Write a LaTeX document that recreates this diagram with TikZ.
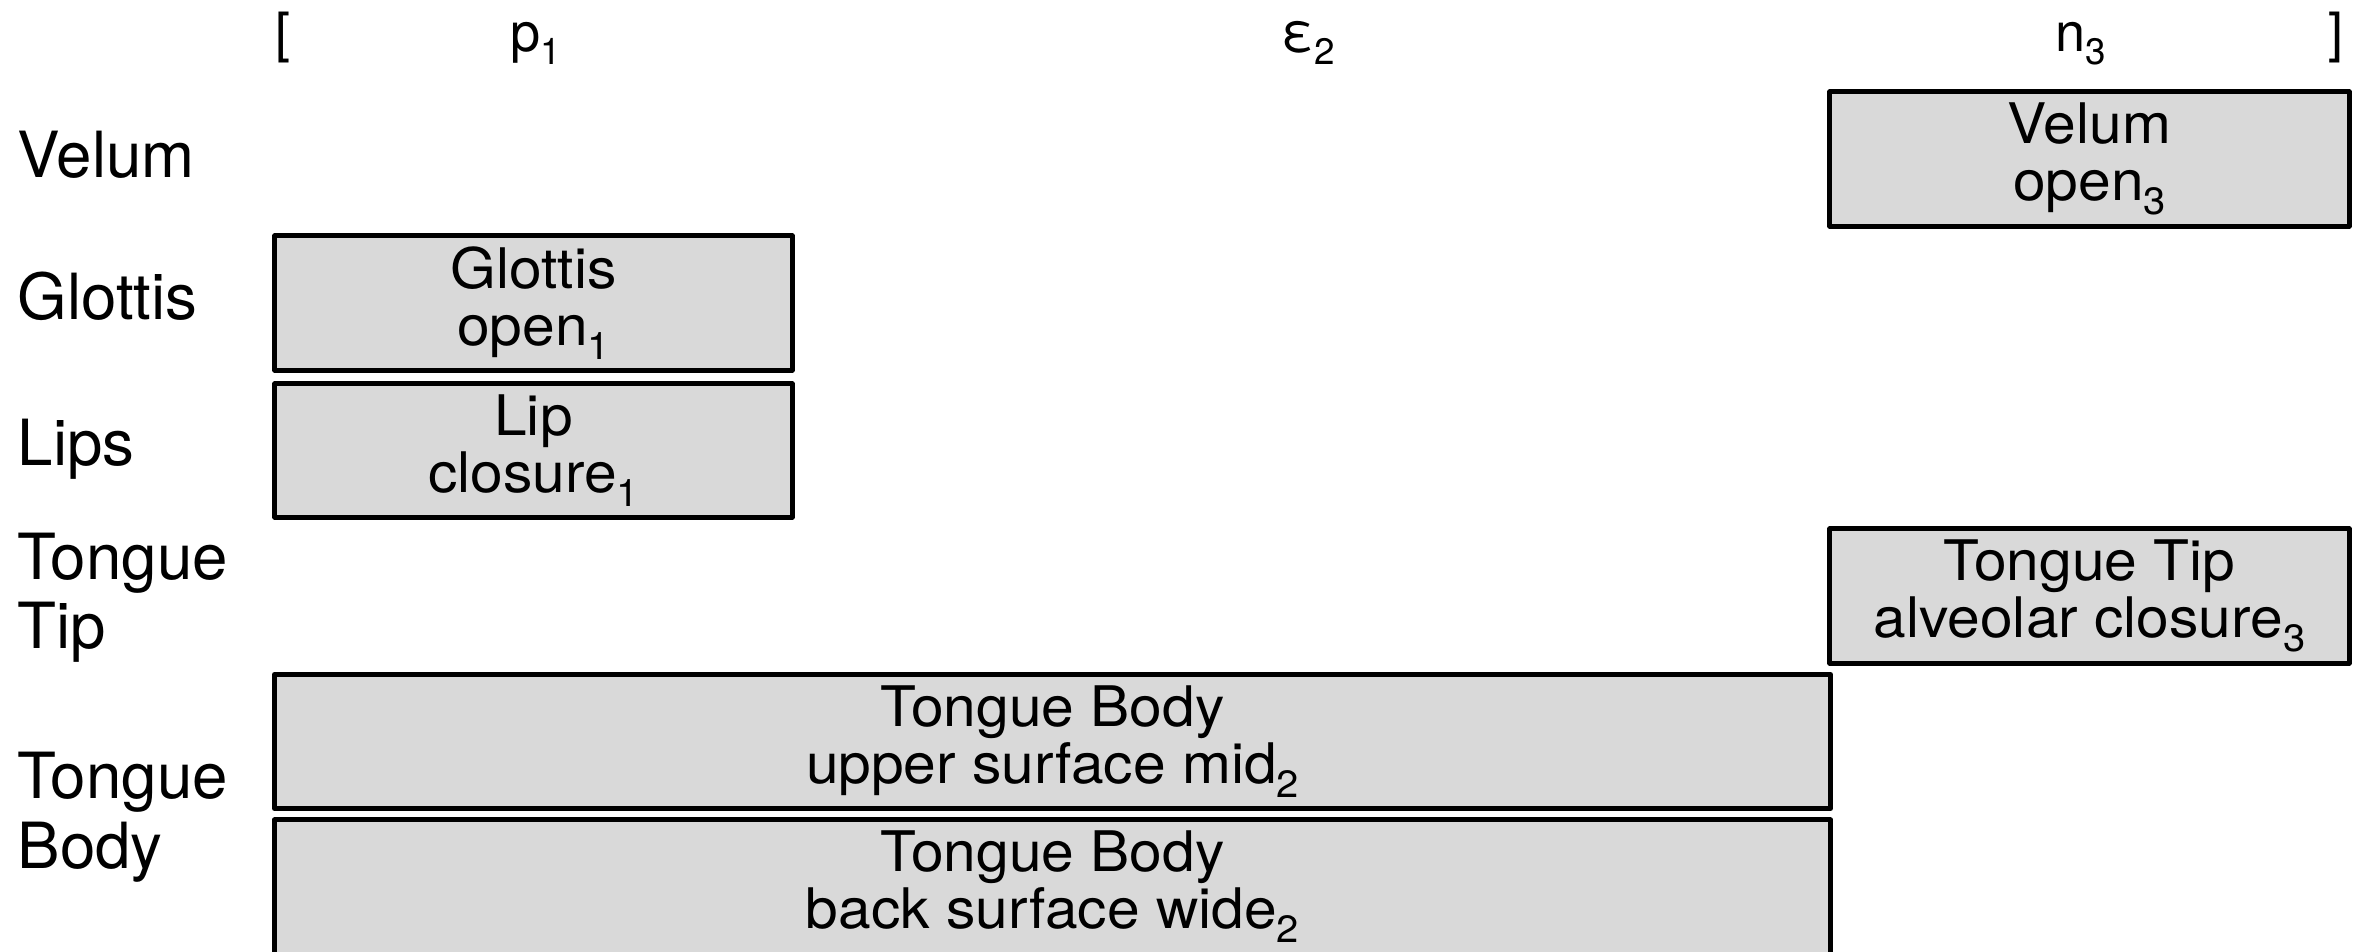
\documentclass[tikz,border=0pt]{standalone}
\usepackage{fontspec}
\usepackage{graphicx}
\setmainfont{TeX Gyre Heros}
\newfontfamily\gesturefont[FakeStretch=1.05]{TeX Gyre Heros}

% lowered, reduced index digit
\newcommand\lowidx[1]{\raisebox{-0.25em}{\scalebox{0.68}{#1}}}

\begin{document}
\begin{tikzpicture}[x=0.01cm, y=-0.01cm,
  gesture/.style={draw=black, fill=black!15, line width=1.42pt, line join=round,
    inner sep=0pt, minimum height=1.34cm, align=center,
    font=\gesturefont\fontsize{15.9}{16.2}\selectfont},
  rowlabel/.style={inner sep=0pt, anchor=base west,
    font=\fontsize{18.1}{19.9}\selectfont},
  toplabel/.style={inner sep=0pt, anchor=base,
    font=\fontsize{15.4}{18}\selectfont}]
\useasboundingbox (0,0) rectangle (2364,951);

% segment string along the top
\node[toplabel] (lbr)  at (283,51)  {[};
\node[toplabel] (seg1) at (536,51)  {p\lowidx{1}};
\node[toplabel] (seg2) at (1308,51) {ε\lowidx{2}};
\node[toplabel] (seg3) at (2081,51) {n\lowidx{3}};
\node[toplabel] (rbr)  at (2336,51) {]};

% articulator tiers
\node[rowlabel] (lvelum)   at (17,177) {Velum};
\node[rowlabel] (lglottis) at (17,319) {Glottis};
\node[rowlabel] (llips)    at (17,465) {Lips};
\node[rowlabel] (ltip)     at (17,579) {\vtop{\hbox{Tongue}\hbox{Tip}}};
\node[rowlabel] (lbody)    at (17,798) {\vtop{\hbox{Tongue}\hbox{Body}}};

% gestures
\node[gesture, minimum width=5.19cm] (velum)   at (2089.5,159) {Velum\\open\lowidx{3}};
\node[gesture, minimum width=5.17cm] (glottis) at (533.5,303)  {Glottis\\open\lowidx{1}};
\node[gesture, minimum width=5.17cm, minimum height=1.33cm] (lips) at (533.5,450.5) {Lip\\closure\lowidx{1}};
\node[gesture, minimum width=5.19cm] (ttip)    at (2089.5,596) {Tongue Tip\\alveolar closure\lowidx{3}};
\node[gesture, minimum width=15.55cm] (tbupper) at (1052.5,741.5) {Tongue Body\\upper surface mid\lowidx{2}};
\node[gesture, minimum width=15.55cm] (tbback)  at (1052.5,887)   {Tongue Body\\back surface wide\lowidx{2}};
\end{tikzpicture}
\end{document}
